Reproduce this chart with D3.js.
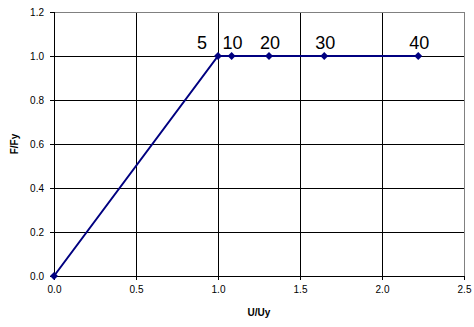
<!DOCTYPE html>
<html><head><meta charset="utf-8">
<script src="https://cdn.jsdelivr.net/npm/d3@7"></script>
<style>body{margin:0;background:#fff}svg{display:block}text{font-family:"Liberation Sans",Arial,sans-serif}</style>
</head><body><svg id="c" width="474" height="327"></svg>
<script>
const uValues = [0, 1.0, 1.083, 1.311, 1.648, 2.221];
const fValues = [0, 1.0, 1.0, 1.0, 1.0, 1.0];
const pointLabels = ["", "5", "10", "20", "30", "40"];
const xTicks = [0, 0.5, 1.0, 1.5, 2.0, 2.5];
const yTicks = [0, 0.2, 0.4, 0.6, 0.8, 1.0, 1.2];

const svg = d3.select("#c");
const L = 54, R = 464, T = 12, B = 276;
const x = d3.scaleLinear().domain([0, 2.5]).range([L, R]);
const y = d3.scaleLinear().domain([0, 1.2]).range([B, T]);

// gridlines
svg.append("g").selectAll("line").data(xTicks.slice(1, -1)).join("line")
  .attr("x1", d => x(d)).attr("x2", d => x(d)).attr("y1", T).attr("y2", B)
  .attr("stroke", "#000").attr("stroke-width", 1).attr("shape-rendering", "crispEdges");
svg.append("g").selectAll("line").data(yTicks.slice(1, -1)).join("line")
  .attr("x1", L).attr("x2", R).attr("y1", d => y(d)).attr("y2", d => y(d))
  .attr("stroke", "#000").attr("stroke-width", 1).attr("shape-rendering", "crispEdges");
// plot border
svg.append("rect").attr("x", L).attr("y", T).attr("width", R - L).attr("height", B - T)
  .attr("fill", "none").attr("stroke", "#808080").attr("stroke-width", 1).attr("shape-rendering", "crispEdges");

// axes
const xAxis = svg.append("g").attr("transform", `translate(0,${B})`)
  .call(d3.axisBottom(x).tickValues(xTicks).tickFormat(d3.format(".1f")).tickSizeOuter(0).tickSize(4).tickPadding(6));
const yAxis = svg.append("g").attr("transform", `translate(${L},0)`)
  .call(d3.axisLeft(y).tickValues(yTicks).tickFormat(d3.format(".1f")).tickSizeOuter(0).tickSize(4).tickPadding(6));
[xAxis, yAxis].forEach(g => {
  g.select(".domain").attr("stroke", "#000").attr("shape-rendering", "crispEdges");
  g.selectAll(".tick line").attr("stroke", "#000").attr("shape-rendering", "crispEdges");
  g.selectAll("text").attr("font-size", 10).attr("fill", "#000")
    .attr("font-family", '"Liberation Sans",Arial,sans-serif');
});

// series line
const pts = uValues.map((u, i) => ({u, f: fValues[i], lab: pointLabels[i]}));
svg.append("path").datum(pts)
  .attr("d", d3.line().x(d => x(d.u)).y(d => y(d.f)))
  .attr("fill", "none").attr("stroke", "#000080").attr("stroke-width", 2);
svg.append("g").selectAll("path").data(pts).join("path")
  .attr("transform", d => `translate(${x(d.u)},${y(d.f)})`)
  .attr("d", d3.symbol(d3.symbolDiamond2, 40)())
  .attr("fill", "#000080");

// point labels
svg.append("g").selectAll("text").data(pts.filter(d => d.lab)).join("text")
  .attr("x", (d, i) => i === 0 ? x(d.u) - 11 : x(d.u) + 1)
  .attr("y", d => y(d.f) - 7)
  .attr("text-anchor", (d, i) => i === 0 ? "end" : "middle")
  .attr("font-size", 18).attr("fill", "#000")
  .text(d => d.lab);

// axis titles
svg.append("text").attr("x", (L + R) / 2).attr("y", 316).attr("text-anchor", "middle")
  .attr("font-size", 10).attr("font-weight", "bold").text("U/Uy");
svg.append("text").attr("transform", `translate(18,${(T + B) / 2}) rotate(-90)`)
  .attr("text-anchor", "middle").attr("font-size", 10).attr("font-weight", "bold").text("F/Fy");
</script></body></html>
